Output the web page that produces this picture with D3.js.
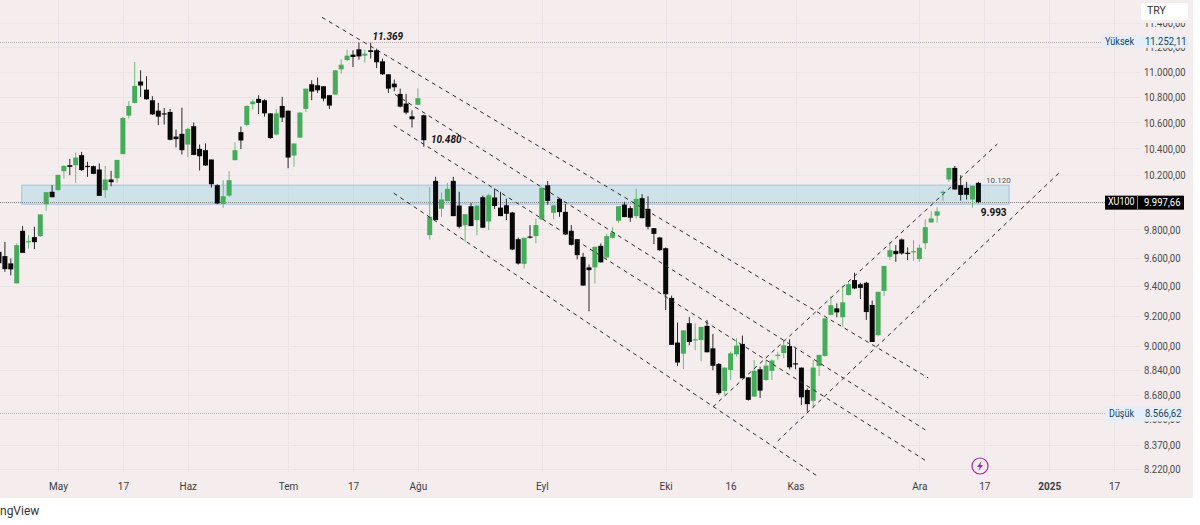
<!DOCTYPE html>
<html><head><meta charset="utf-8">
<script src="https://cdnjs.cloudflare.com/ajax/libs/d3/7.8.5/d3.min.js"></script>
<style>
html,body{margin:0;padding:0;background:#fff;overflow:hidden}
svg{display:block}
text{font-family:Roboto,"Noto Sans",sans-serif}
</style></head><body>
<svg id="c" width="1200" height="525"></svg>
<script>
const firstIndex = -3;
const opens = [9640,9610,9559,9420,9790,9709,9745,9752,9983,10074,10086,10227,10272,10272,10348,10267,10265,10240,10086,10165,10175,10356,10652,10752,10922,10857,10773,10691,10670,10681,10490,10511,10429,10570,10396,10386,10315,10123,9985,10046,10310,10524,10580,10742,10784,10773,10670,10506,10728,10691,10345,10482,10705,10900,10892,10884,10813,10818,11020,11095,11139,11183,11131,11175,11175,11085,10980,10905,10823,10747,10647,10737,10655,9759,10155,9950,10005,10155,9973,9830,9968,9867,10034,9857,10032,9958,9975,9922,9730,9556,9749,9752,9872,10122,9920,10022,9927,9790,9730,9605,9531,9531,9683,9601,9740,9862,9980,9954,9896,10027,9949,9809,9742,9666,9320,9020,8947,9149,9037,9037,9131,8982,8880,8706,8841,8943,9011,8793,8670,8845,8776,8835,8934,8951,8997,8884,8856,8712,8643,8867,8932,9205,9249,9189,9340,9443,9414,9424,9272,9069,9368,9605,9647,9728,9634,9640,9589,9701,9850,9899,10066,10165,10252,10123,10103,10017,10140];
const highs = [9665,9711,9594,9699,9824,9759,9819,9908,10071,10123,10200,10272,10320,10368,10373,10298,10270,10285,10267,10230,10312,10642,10767,11080,11012,10964,10805,10752,10712,10704,10544,10715,10557,10598,10429,10437,10315,10130,10160,10227,10445,10567,10733,10781,10812,10781,10670,10702,10800,10691,10437,10680,10865,10932,10953,10884,10813,11012,11101,11180,11175,11239,11180,11236,11188,11107,10980,10937,10865,10823,10694,10868,10660,10110,10185,10069,10140,10185,10074,9910,9992,9973,10046,10060,10098,10074,10024,9927,9742,9740,9831,9879,10110,10153,9975,10029,9985,9831,9730,9633,9551,9676,9700,9770,9819,9968,10000,9970,10098,10056,10041,9809,9747,9671,9336,9153,9101,9191,9149,9124,9171,9077,8885,8856,8960,9048,9066,8793,8906,8862,8906,8910,8960,9037,9042,8982,8856,8722,8906,8939,9182,9331,9283,9402,9426,9494,9424,9431,9302,9362,9541,9711,9688,9735,9671,9723,9692,9874,9932,9960,10086,10252,10267,10197,10148,10118,10148];
const lows = [9535,9500,9475,9420,9633,9664,9659,9747,9934,10034,10086,10172,10197,10140,10230,10185,10205,10044,10029,10115,10140,10356,10629,10747,10800,10778,10657,10578,10583,10462,10407,10353,10332,10348,10232,10267,10105,9983,9956,10036,10310,10394,10570,10700,10665,10644,10475,10500,10603,10250,10260,10480,10680,10773,10831,10765,10705,10818,10985,11088,11038,11098,11074,11107,11030,10975,10831,10844,10717,10663,10560,10737,10412,9728,9867,9891,10005,9896,9807,9711,9824,9759,9812,9795,9946,9896,9867,9652,9551,9523,9735,9700,9867,9980,9874,9891,9759,9685,9587,9405,9229,9419,9566,9587,9735,9848,9889,9855,9879,9881,9800,9695,9647,9238,9005,8868,8846,9002,8971,8897,8956,8839,8681,8679,8776,8928,8787,8645,8670,8662,8772,8776,8910,8917,8845,8845,8617,8575,8597,8802,8928,9205,9189,9126,9336,9380,9313,9171,9024,9062,9333,9582,9570,9620,9582,9578,9570,9660,9850,9848,10005,10148,10091,10009,10017,9958,9990];
const closes = [9560,9519,9517,9687,9633,9716,9709,9908,10071,10034,10200,10267,10260,10330,10235,10260,10207,10044,10165,10145,10312,10634,10728,10887,10890,10781,10662,10644,10665,10465,10470,10386,10549,10350,10340,10270,10130,9988,10041,10160,10386,10460,10728,10763,10752,10670,10478,10670,10637,10330,10437,10676,10865,10842,10852,10786,10731,11012,11057,11131,11120,11125,11147,11161,11077,10980,10865,10876,10723,10676,10624,10789,10462,9891,9867,10017,10096,9896,9819,9910,9824,9973,9812,10048,9970,9896,9913,9657,9558,9740,9745,9831,10103,10007,9975,9925,9764,9690,9617,9405,9512,9676,9566,9752,9778,9968,9889,9884,10022,9881,9819,9768,9652,9345,9005,8889,9101,9024,9042,9124,8956,8868,8692,8856,8949,9000,8787,8649,8835,8708,8869,8902,8940,9002,8858,8880,8665,8622,8856,8939,9182,9270,9222,9290,9414,9385,9389,9224,9024,9362,9541,9652,9624,9629,9629,9645,9669,9816,9879,9930,10074,10252,10091,10051,10052,10118,9997.66];

const priceTicks = [11400,11200,11000,10800,10600,10400,10200,10000,9800,9600,9400,9200,9000,8840,8680,8530,8370,8220];
const hiddenPriceLabels = [10000];
const timeTickIndex = [7,18,29,46,57,68,89,110,121,132,153,164,175,186];
const timeTickLabels = ["May","17","Haz","Tem","17","Ağu","Eyl","Eki","16","Kas","Ara","17","2025","17"];
const highPrice = 11252.11, lowPrice = 8566.62, lastPrice = 9997.66;
const zoneIndex = [0.85,168.2], zonePrice = [10123,9983];
// trend lines: [startIndex, startPrice, endIndex, endPrice]
const trendLines = [
 [51.75,11448,154.5,8789],
 [64.1,10820,154,8461],
 [63.9,10577,154,8274],
 [63.9,10064,135.5,8184],
 [118,8605,166.2,10432],
 [129,8393,176.8,10220]
];
const noteText = ["11.369","10.480","10.120","9.993"];
const noteIndex = [60.3,70.2,164.3,163.4];
const notePrice = [11282,10458,10152,9915];

const W=1193,H=498;
const svg=d3.select("#c");
const x=d3.scaleLinear().domain([0,186]).range([16.7,1114.1]);
const y=d3.scaleLog().domain([8220,11000]).range([469.3,71.8]);
const trLocale=d3.formatLocale({decimal:",",thousands:".",grouping:[3],currency:["","₺"]});
const priceFmt=trLocale.format(",.2f");
const colG="#45ad5a",colB="#080808",grid="#ebe3e5",bg="#f4eced";
// price labels are narrow in the reference: squeeze the glyphs to its widths
const squeeze=t=>t.attr("textLength",function(){const n=this.textContent.length;return n>=9?41.5:(n?36.5:null);})
 .attr("lengthAdjust","spacingAndGlyphs").attr("font-size",11.5);

svg.append("rect").attr("width",W).attr("height",H).attr("fill",bg);

// grid
const g=svg.append("g");
g.selectAll("line.h").data(priceTicks).join("line").attr("x1",0).attr("x2",1140)
 .attr("y1",d=>Math.round(y(d))+.5).attr("y2",d=>Math.round(y(d))+.5).attr("stroke",grid);
g.selectAll("line.v").data(timeTickIndex).join("line").attr("y1",0).attr("y2",472)
 .attr("x1",d=>Math.round(x(d))+.5).attr("x2",d=>Math.round(x(d))+.5).attr("stroke",grid);

// zone
svg.append("rect").attr("x",x(zoneIndex[0])).attr("width",x(zoneIndex[1])-x(zoneIndex[0]))
 .attr("y",y(zonePrice[0])).attr("height",y(zonePrice[1])-y(zonePrice[0]))
 .attr("fill","rgba(151,213,223,.4)").attr("stroke","#a5bfe9").attr("stroke-width",1);

// price lines
const highY=y(highPrice)+1;
[[highY,"#b5adb0"],[y(lowPrice),"#b5adb0"],[y(lastPrice),"#8a8588"]].forEach(([py,col])=>{
 svg.append("line").attr("x1",0).attr("x2",1105).attr("y1",Math.round(py)+.5).attr("y2",Math.round(py)+.5)
  .attr("stroke",col).attr("stroke-dasharray","1 1");
});

// candles
const candles=closes.map((c,k)=>({i:firstIndex+k,o:opens[k],h:highs[k],l:lows[k],c}));
const cg=svg.append("g");
cg.selectAll("line").data(candles).join("line")
 .attr("x1",d=>x(d.i)).attr("x2",d=>x(d.i)).attr("y1",d=>y(d.h)).attr("y2",d=>y(d.l))
 .attr("stroke",d=>d.c>=d.o?"#6cbd7c":"#2a2a2a").attr("stroke-width",1);
cg.selectAll("rect").data(candles).join("rect")
 .attr("x",d=>x(d.i)-2.5).attr("width",5)
 .attr("y",d=>y(Math.max(d.o,d.c)))
 .attr("height",d=>Math.max(1.2,Math.abs(y(d.o)-y(d.c))))
 .attr("fill",d=>d.c>=d.o?colG:colB);

// trend lines
svg.append("g").selectAll("line").data(trendLines).join("line")
 .attr("x1",d=>x(d[0])).attr("y1",d=>y(d[1])).attr("x2",d=>x(d[2])).attr("y2",d=>y(d[3]))
 .attr("stroke","#2b2b2b").attr("stroke-width",1).attr("stroke-dasharray","4 4");

// annotations
const noteStyle=[
 {s:10,w:700,f:"italic",c:"#111"},
 {s:10,w:700,f:"italic",c:"#111"},
 {s:8,w:400,f:"normal",c:"#555"},
 {s:10,w:700,f:"normal",c:"#111"}];
svg.append("g").selectAll("text").data(noteText).join("text")
 .attr("x",(d,k)=>x(noteIndex[k])).attr("y",(d,k)=>y(notePrice[k]))
 .attr("dominant-baseline","middle").text(d=>d)
 .attr("font-size",(d,k)=>noteStyle[k].s).attr("font-weight",(d,k)=>noteStyle[k].w)
 .attr("font-style",(d,k)=>noteStyle[k].f).attr("fill",(d,k)=>noteStyle[k].c);

// bolt icon
const bolt=svg.append("g").attr("transform","translate(980,466)");
bolt.append("circle").attr("r",8).attr("fill","none").attr("stroke","#9c27b0").attr("stroke-width",1.2);
bolt.append("path").attr("d","M1.5,-5 L-3,1 L-0.3,1 L-1.5,5 L3,-1 L0.3,-1 Z").attr("fill","#9c27b0");

// axes
const yAxis=d3.axisRight(y).tickValues(priceTicks).tickFormat(d=>hiddenPriceLabels.includes(d)?"":priceFmt(d)).tickSize(0).tickPadding(0);
const ya=svg.append("g").attr("transform","translate(1144,0)").call(yAxis);
ya.select(".domain").remove();
ya.selectAll("text").attr("fill","#4a4a4a").call(squeeze);

const xAxis=d3.axisBottom(x).tickValues(timeTickIndex).tickFormat((d,k)=>timeTickLabels[k]).tickSize(0).tickPadding(0);
const xa=svg.append("g").attr("transform","translate(0,483)").call(xAxis);
xa.select(".domain").remove();
xa.selectAll("text").attr("font-size",10).attr("fill","#3d3d3d")
 .attr("font-weight",(d,k)=>timeTickLabels[k]==="2025"?700:400)
 .style("font-family","Roboto,sans-serif");

// currency box and its backing
svg.append("rect").attr("x",1136).attr("y",0).attr("width",57).attr("height",23).attr("fill",bg);
svg.append("rect").attr("x",1141).attr("y",3).attr("width",47).attr("height",17).attr("rx",3).attr("fill","#fff");
svg.append("text").attr("x",1147).attr("y",11.5).attr("dominant-baseline","middle").attr("font-size",10.5).attr("fill","#333").text("TRY");

// badges
function badge(cy,price,label,h,bx,bw,lx,lw){
 svg.append("rect").attr("x",bx).attr("y",cy-h/2).attr("width",bw).attr("height",h).attr("fill","#e4eff9");
 svg.append("text").attr("x",lx).attr("y",cy).attr("dominant-baseline","middle")
  .attr("font-size",10.5).attr("textLength",lw).attr("lengthAdjust","spacingAndGlyphs").attr("fill","#1d3f5e").text(label);
 svg.append("text").attr("x",1145).attr("y",cy).attr("dominant-baseline","middle")
  .attr("fill","#1d3f5e").text(priceFmt(price)).call(squeeze);
}
badge(highY,highPrice,"Yüksek",12,1102,86,1105,29);
badge(y(lowPrice)+1,lowPrice,"Düşük",15,1105,79,1109,25);
const ly=y(lastPrice)+.5;
svg.append("rect").attr("x",1105).attr("y",ly-7).attr("width",79).attr("height",14).attr("fill","#000");
svg.append("line").attr("x1",1137.5).attr("x2",1137.5).attr("y1",ly-7).attr("y2",ly+7).attr("stroke","#888");
svg.append("text").attr("x",1108).attr("y",ly).attr("dominant-baseline","middle").attr("font-size",10.5).attr("textLength",26.5).attr("lengthAdjust","spacingAndGlyphs").attr("fill","#fff").text("XU100");
svg.append("text").attr("x",1144).attr("y",ly).attr("dominant-baseline","middle").attr("fill","#fff").text(priceFmt(lastPrice)).call(squeeze);

// watermark
svg.append("text").attr("x",0).attr("y",515).attr("font-size",12).attr("fill","#333").text("ngView");
</script>
</body></html>
